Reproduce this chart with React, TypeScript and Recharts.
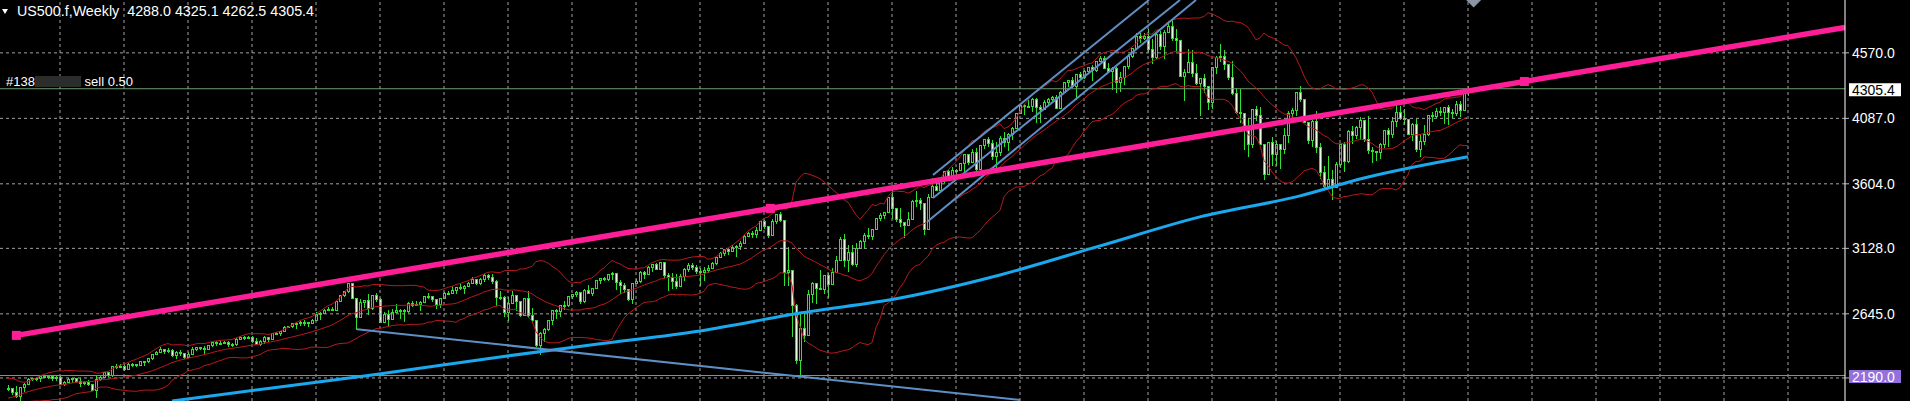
import {
  ComposedChart,
  Bar,
  Line,
  XAxis,
  YAxis,
  ReferenceLine,
  ReferenceDot,
} from "recharts";

// price window of the chart (top edge / bottom edge)
const Y_MIN = 2002;
const Y_MAX = 4960;

// weekly bars, first bar = week of 6 Jun 2016, last = week of 5 Jun 2023
const FIRST_OPEN = 2099;

// closes before the first visible bar (only feed the bollinger bands)
const PRE_CLOSES = [1940, 1880, 1865, 1918, 1948, 2000, 2022, 2050, 2036, 2073, 2048, 2081, 2092, 2065, 2057, 2047, 2052, 2099, 2099];

const CLOSES = [
  // 2016
  2096, 2071, 2037, 2103, 2130, 2162, 2175, 2174, 2183, 2184, 2184, 2169, 2180, 2128, 2139, 2165, 2168, 2153, 2133, 2141, 2126, 2085, 2164, 2182, 2213, 2192, 2260, 2258, 2263, 2239,
  // 2017
  2277, 2275, 2271, 2295, 2297, 2316, 2351, 2367, 2383, 2373, 2378, 2344, 2363, 2355, 2329, 2349, 2384, 2399, 2390, 2382, 2416, 2439, 2432, 2433, 2438, 2423, 2425, 2459, 2472, 2472, 2476, 2441, 2426, 2443, 2477, 2461, 2500, 2502, 2519, 2549, 2553, 2575, 2581, 2587, 2582, 2579, 2602, 2642, 2652, 2675, 2684, 2674,
  // 2018
  2743, 2786, 2810, 2873, 2762, 2620, 2732, 2747, 2691, 2786, 2752, 2588, 2641, 2604, 2656, 2670, 2670, 2663, 2728, 2713, 2721, 2735, 2779, 2780, 2755, 2718, 2760, 2801, 2802, 2819, 2840, 2833, 2850, 2875, 2902, 2872, 2905, 2930, 2914, 2886, 2767, 2768, 2659, 2723, 2781, 2736, 2633, 2760, 2633, 2600, 2417, 2507,
  // 2019
  2532, 2596, 2671, 2665, 2707, 2708, 2776, 2793, 2804, 2743, 2822, 2801, 2834, 2893, 2907, 2905, 2940, 2946, 2881, 2860, 2826, 2752, 2873, 2887, 2950, 2942, 2990, 3014, 2977, 3026, 2932, 2919, 2889, 2847, 2926, 2979, 3007, 2992, 2962, 2952, 2970, 2986, 3023, 3067, 3093, 3120, 3110, 3141, 3146, 3169, 3221, 3240,
  // 2020
  3235, 3265, 3330, 3295, 3226, 3328, 3380, 3338, 2954, 2972, 2711, 2305, 2541, 2489, 2790, 2875, 2837, 2831, 2930, 2864, 2955, 3044, 3194, 3041, 3098, 3009, 3130, 3185, 3225, 3216, 3271, 3351, 3373, 3397, 3508, 3427, 3341, 3319, 3298, 3348, 3477, 3484, 3465, 3270, 3510, 3585, 3558, 3638, 3699, 3663, 3709, 3703, 3756,
  // 2021
  3825, 3768, 3841, 3714, 3887, 3934, 3907, 3811, 3842, 3943, 3913, 3975, 4019, 4129, 4185, 4180, 4181, 4233, 4174, 4156, 4204, 4230, 4247, 4166, 4281, 4352, 4370, 4327, 4412, 4395, 4437, 4468, 4442, 4509, 4535, 4459, 4433, 4455, 4357, 4391, 4471, 4545, 4605, 4697, 4683, 4698, 4595, 4538, 4712, 4620, 4725, 4766,
  // 2022
  4677, 4663, 4398, 4432, 4501, 4419, 4349, 4385, 4329, 4204, 4463, 4543, 4546, 4488, 4393, 4272, 4132, 4123, 4023, 3901, 4158, 4109, 3901, 3675, 3912, 3825, 3899, 3863, 3962, 4130, 4145, 4280, 4228, 4057, 3924, 4067, 3873, 3693, 3586, 3640, 3583, 3752, 3901, 3771, 3993, 3965, 4026, 4072, 3934, 3852, 3845, 3840,
  // 2023
  3895, 3999, 3973, 4071, 4136, 4090, 4079, 3970, 4046, 3862, 3917, 3971, 4109, 4105, 4138, 4133, 4169, 4136, 4124, 4192, 4151, 4288, 4305.4,
];

const HIGHS = [
  2120, 2095, 2113, 2103, 2132, 2169, 2175, 2178, 2185, 2194, 2193, 2187, 2184, 2187, 2149, 2175, 2175, 2169, 2169, 2148, 2154, 2131, 2183, 2188, 2213, 2214, 2260, 2278, 2274, 2273,
  2282, 2279, 2277, 2300, 2300, 2319, 2352, 2368, 2401, 2383, 2390, 2382, 2370, 2379, 2356, 2361, 2398, 2399, 2404, 2406, 2418, 2440, 2446, 2441, 2444, 2442, 2433, 2464, 2479, 2484, 2481, 2480, 2468, 2454, 2480, 2474, 2500, 2508, 2520, 2552, 2557, 2575, 2582, 2590, 2597, 2582, 2605, 2657, 2655, 2680, 2695, 2692,
  2743, 2787, 2815, 2873, 2870, 2763, 2754, 2748, 2789, 2786, 2802, 2761, 2661, 2672, 2680, 2717, 2683, 2682, 2732, 2742, 2742, 2737, 2779, 2802, 2780, 2752, 2763, 2804, 2816, 2848, 2841, 2863, 2855, 2877, 2916, 2900, 2908, 2941, 2940, 2940, 2891, 2817, 2779, 2768, 2816, 2781, 2730, 2760, 2815, 2685, 2601, 2511,
  2538, 2598, 2675, 2681, 2708, 2738, 2776, 2794, 2814, 2804, 2831, 2860, 2836, 2894, 2910, 2917, 2940, 2954, 2931, 2892, 2874, 2831, 2876, 2905, 2964, 2959, 2996, 3014, 3018, 3028, 3027, 2945, 2943, 2939, 2940, 2985, 3021, 3022, 3002, 2983, 2993, 3008, 3027, 3067, 3098, 3121, 3128, 3154, 3150, 3183, 3226, 3248,
  3258, 3282, 3330, 3338, 3285, 3347, 3385, 3393, 3259, 3136, 2882, 2720, 2641, 2641, 2819, 2879, 2871, 2965, 2932, 2945, 2981, 3068, 3212, 3233, 3156, 3155, 3166, 3187, 3238, 3280, 3272, 3352, 3387, 3399, 3509, 3588, 3425, 3429, 3320, 3394, 3482, 3550, 3497, 3465, 3530, 3646, 3628, 3645, 3701, 3712, 3726, 3711, 3760,
  3827, 3810, 3859, 3870, 3887, 3937, 3951, 3929, 3915, 3960, 3983, 3978, 4021, 4129, 4191, 4194, 4219, 4238, 4236, 4187, 4220, 4234, 4255, 4257, 4287, 4355, 4372, 4393, 4415, 4430, 4440, 4468, 4480, 4513, 4545, 4549, 4492, 4465, 4465, 4429, 4475, 4560, 4608, 4719, 4714, 4718, 4744, 4672, 4713, 4731, 4740, 4808,
  4818, 4749, 4632, 4453, 4595, 4590, 4490, 4385, 4416, 4327, 4465, 4546, 4637, 4593, 4471, 4513, 4308, 4307, 4082, 4091, 4159, 4178, 4168, 3837, 3913, 3951, 3919, 3878, 4013, 4140, 4167, 4281, 4325, 4218, 4062, 4076, 4140, 3907, 3736, 3806, 3703, 3762, 3905, 3911, 4001, 4028, 4034, 4100, 4052, 4101, 3876, 3846,
  3907, 4003, 4015, 4094, 4195, 4176, 4157, 4076, 4049, 4079, 3965, 4040, 4110, 4133, 4164, 4169, 4170, 4186, 4155, 4212, 4213, 4290, 4325.1,
];

const LOWS = [
  2085, 2051, 2032, 1992, 2074, 2132, 2154, 2156, 2147, 2176, 2172, 2160, 2158, 2127, 2120, 2139, 2145, 2142, 2114, 2126, 2122, 2083, 2028, 2159, 2182, 2187, 2187, 2248, 2254, 2234,
  2245, 2258, 2259, 2266, 2267, 2290, 2313, 2347, 2361, 2354, 2360, 2333, 2322, 2344, 2322, 2328, 2366, 2377, 2387, 2353, 2382, 2407, 2415, 2419, 2428, 2405, 2407, 2415, 2457, 2459, 2466, 2437, 2423, 2418, 2428, 2446, 2474, 2496, 2489, 2520, 2545, 2547, 2544, 2566, 2566, 2557, 2574, 2598, 2605, 2650, 2671, 2673,
  2682, 2737, 2778, 2808, 2759, 2532, 2622, 2699, 2647, 2682, 2742, 2585, 2594, 2553, 2610, 2660, 2612, 2594, 2655, 2702, 2707, 2676, 2737, 2760, 2743, 2691, 2699, 2770, 2790, 2802, 2795, 2826, 2802, 2854, 2876, 2864, 2868, 2886, 2903, 2874, 2710, 2756, 2628, 2603, 2722, 2670, 2631, 2649, 2621, 2583, 2409, 2346,
  2443, 2524, 2570, 2612, 2631, 2681, 2704, 2764, 2775, 2722, 2734, 2800, 2785, 2835, 2873, 2891, 2898, 2900, 2825, 2801, 2805, 2750, 2728, 2874, 2880, 2906, 2955, 2963, 2975, 2974, 2914, 2822, 2834, 2834, 2853, 2891, 2964, 2978, 2946, 2856, 2892, 2953, 2984, 3014, 3071, 3076, 3090, 3111, 3070, 3123, 3183, 3223,
  3212, 3214, 3264, 3281, 3214, 3235, 3315, 3328, 2855, 2860, 2478, 2280, 2191, 2447, 2504, 2729, 2727, 2830, 2797, 2766, 2865, 2970, 3044, 2999, 2958, 3003, 2999, 3128, 3127, 3202, 3198, 3272, 3340, 3354, 3400, 3350, 3330, 3292, 3209, 3303, 3342, 3441, 3415, 3233, 3280, 3511, 3555, 3557, 3614, 3634, 3647, 3636, 3703,
  3663, 3750, 3762, 3694, 3725, 3869, 3884, 3789, 3723, 3819, 3885, 3853, 3937, 4036, 4127, 4118, 4172, 4144, 4057, 4062, 4155, 4184, 4217, 4165, 4165, 4281, 4322, 4321, 4233, 4385, 4387, 4424, 4367, 4436, 4514, 4457, 4427, 4306, 4278, 4288, 4340, 4460, 4537, 4595, 4650, 4672, 4585, 4495, 4532, 4600, 4531, 4733,
  4662, 4582, 4396, 4222, 4431, 4401, 4338, 4115, 4279, 4158, 4162, 4424, 4507, 4450, 4380, 4267, 4124, 4062, 3859, 3811, 3875, 4074, 3900, 3637, 3705, 3741, 3743, 3722, 3835, 3911, 4079, 4115, 4218, 4057, 3907, 3886, 3838, 3647, 3584, 3635, 3492, 3590, 3731, 3699, 3764, 3906, 3943, 3938, 3918, 3828, 3764, 3783,
  3794, 3877, 3885, 3949, 4031, 4079, 4048, 3968, 3928, 3847, 3808, 3900, 3962, 4068, 4098, 4114, 4049, 4048, 4098, 4112, 4104, 4167, 4262.5,
];

// 200-period MA (blue), read at a few bars
const MA_BARS = [41, 66, 91, 123, 148, 173, 198, 223, 248, 273, 298, 323, 339, 365];
const MA_VALUES = [2002, 2098, 2194, 2327, 2424, 2519, 2651, 2762, 2932, 3146, 3360, 3515, 3647, 3804];

const PRICE_TICKS = [4570, 4087, 3604, 3128, 2645, 2172];
const GRID_BARS = [13, 29, 45, 61, 77, 93, 109, 125, 141, 157, 173, 189, 205, 221, 237, 253, 269, 285, 301, 317, 333, 349, 365, 381, 397, 413, 429, 445];

const BID = 4305.4;
const LEVEL = 2190;

// drawn objects: [bar, price] pairs
const PINK_START = [2.1, 2486];
const PINK_ANCHOR = [379.1, 4359];
const PINK_EDGE = [459.25, 4757];
const SUPPORT_LINE = [[87.25, 2531], [253, 2010]];
const CHANNEL = [
  [[231.25, 3669], [285.25, 4960]],
  [[231.25, 3500], [293, 4960]],
  [[229.75, 3323], [297, 4960]],
];

const GREEN = "#2fe22f";
const BEAR_FILL = "#e4fbdc";
const PINK = "#ff1e98";
const STEEL = "#5e8fc5";
const GRID = "#a2a2a2";
const FONT = "'Liberation Sans', Arial, sans-serif";

const ALL_CLOSES = [...PRE_CLOSES, ...CLOSES];

const rows = CLOSES.map((close, k) => {
  const open = k === 0 ? FIRST_OPEN : CLOSES[k - 1];
  const win = ALL_CLOSES.slice(k, k + 20);
  const mean = win.reduce((s, v) => s + v, 0) / win.length;
  const sd = Math.sqrt(win.reduce((s, v) => s + (v - mean) ** 2, 0) / win.length);
  const maIdx = MA_BARS.indexOf(k);
  return {
    k,
    open,
    close,
    high: Math.max(HIGHS[k], open, close),
    low: Math.min(LOWS[k], open, close),
    bbU: mean + 2 * sd,
    bbM: mean,
    bbL: mean - 2 * sd,
    ma: maIdx >= 0 ? MA_VALUES[maIdx] : null,
  };
});

const Candle = (props: any) => {
  const { x, y, width, height } = props;
  const d = props.payload ?? props;
  if (y == null || isNaN(y)) return null;
  const cx = Math.round(x + width / 2) + 0.5;
  const span = d.high - d.low || 1;
  const py = (p: number) => y + ((d.high - p) / span) * height;
  const top = Math.round(py(Math.max(d.open, d.close))) + 0.5;
  const bot = Math.round(py(Math.min(d.open, d.close))) + 0.5;
  const bull = d.close >= d.open;
  return (
    <g>
      <line x1={cx} x2={cx} y1={Math.round(y)} y2={Math.round(y + height) + 1} stroke={GREEN} strokeWidth={1} />
      <rect
        x={cx - 1}
        y={top}
        width={2}
        height={Math.max(bot - top, 1)}
        fill={bull ? "#000" : BEAR_FILL}
        stroke={GREEN}
        strokeWidth={1}
      />
    </g>
  );
};

const priceTag = (text: string, bg: string, fg: string) => (props: any) => {
  const vb = props.viewBox;
  if (!vb) return null;
  const x = vb.x + vb.width;
  const y = vb.y;
  return (
    <g>
      <rect x={x + 4} y={y - 5.5} width={52} height={13} fill={bg} />
      <text x={x + 7} y={y + 6} fill={fg} fontSize={14} fontFamily={FONT}>
        {text}
      </text>
    </g>
  );
};

const square = (props: any) => (
  <rect x={props.cx - 4.5} y={props.cy - 4.5} width={9} height={9} fill={PINK} />
);

const shiftMark = (props: any) => (
  <polygon
    points={`${props.cx - 7.5},${props.cy} ${props.cx + 7.5},${props.cy} ${props.cx},${props.cy + 7.5}`}
    fill="#8a96a3"
  />
);

const App = () => {
  return (
    <div
      style={{
        position: "absolute",
        left: 0,
        top: 0,
        width: 1910,
        height: 401,
        background: "#000",
        overflow: "hidden",
      }}
    >
      <ComposedChart width={1910} height={401} data={rows} margin={{ top: 0, right: 0, bottom: 0, left: 0 }}>
        <XAxis type="number" dataKey="k" domain={[-2, 459.25]} allowDataOverflow hide />
        <YAxis
          orientation="right"
          type="number"
          domain={[Y_MIN, Y_MAX]}
          allowDataOverflow
          ticks={PRICE_TICKS}
          interval={0}
          width={65}
          axisLine={{ stroke: "#fff" }}
          tickLine={{ stroke: "#bbb" }}
          tickSize={4}
          tickMargin={3}
          tick={{ fill: "#fff", fontSize: 14, fontFamily: FONT }}
          tickFormatter={(v: number) => (v === 2172 ? "" : v.toFixed(1))}
        />

        {/* dashed grid */}
        {GRID_BARS.map((k) => (
          <ReferenceLine key={"gx" + k} x={k} stroke={GRID} strokeDasharray="3 3" />
        ))}
        {PRICE_TICKS.map((p) => (
          <ReferenceLine key={"gy" + p} y={p} stroke={GRID} strokeDasharray="3 3" />
        ))}

        <ReferenceLine y={BID} stroke="#6f9c6f" label={priceTag(BID.toFixed(1), "#fff", "#000")} />
        <ReferenceLine y={LEVEL} stroke="#8c7ae6" label={priceTag(LEVEL.toFixed(1), "#9370db", "#fff")} />

        <Bar
          dataKey={(d: any) => [d.low, d.high]}
          shape={Candle}
          barSize={3}
          isAnimationActive={false}
        />

        <Line dataKey="bbU" stroke="#b8181c" strokeWidth={1} dot={false} activeDot={false} isAnimationActive={false} />
        <Line dataKey="bbM" stroke="#b8181c" strokeWidth={1} dot={false} activeDot={false} isAnimationActive={false} />
        <Line dataKey="bbL" stroke="#b8181c" strokeWidth={1} dot={false} activeDot={false} isAnimationActive={false} />
        <Line
          type="monotone"
          dataKey="ma"
          stroke="#1aa8ee"
          strokeWidth={3}
          dot={false}
          activeDot={false}
          connectNulls
          isAnimationActive={false}
        />

        <ReferenceLine
          segment={[{ x: SUPPORT_LINE[0][0], y: SUPPORT_LINE[0][1] }, { x: SUPPORT_LINE[1][0], y: SUPPORT_LINE[1][1] }]}
          stroke={STEEL}
          strokeWidth={2}
          ifOverflow="hidden"
        />
        {CHANNEL.map((seg, n) => (
          <ReferenceLine
            key={n}
            segment={[{ x: seg[0][0], y: seg[0][1] }, { x: seg[1][0], y: seg[1][1] }]}
            stroke={STEEL}
            strokeWidth={2}
            ifOverflow="hidden"
          />
        ))}

        <ReferenceLine
          segment={[{ x: PINK_START[0], y: PINK_START[1] }, { x: PINK_EDGE[0], y: PINK_EDGE[1] }]}
          stroke={PINK}
          strokeWidth={5.5}
          ifOverflow="hidden"
        />
        <ReferenceDot x={PINK_START[0]} y={PINK_START[1]} r={5} shape={square} />
        <ReferenceDot
          x={(PINK_START[0] + PINK_ANCHOR[0]) / 2}
          y={(PINK_START[1] + PINK_ANCHOR[1]) / 2}
          r={5}
          shape={square}
        />
        <ReferenceDot x={PINK_ANCHOR[0]} y={PINK_ANCHOR[1]} r={5} shape={square} />

        <ReferenceDot x={366.4} y={Y_MAX} r={5} shape={shiftMark} ifOverflow="visible" />
      </ComposedChart>

      <div
        style={{
          position: "absolute",
          left: 2,
          top: 9,
          width: 0,
          height: 0,
          borderLeft: "3px solid transparent",
          borderRight: "3px solid transparent",
          borderTop: "5px solid #fff",
        }}
      />
      <div
        style={{
          position: "absolute",
          left: 17,
          top: 4,
          color: "#fff",
          fontFamily: FONT,
          fontSize: 14.3,
          lineHeight: "15px",
          whiteSpace: "pre",
        }}
      >
        {"US500.f,Weekly  4288.0 4325.1 4262.5 4305.4"}
      </div>
      <div
        style={{
          position: "absolute",
          left: 6,
          top: 75,
          color: "#fff",
          fontFamily: FONT,
          fontSize: 13,
          lineHeight: "13px",
          whiteSpace: "pre",
          display: "flex",
          alignItems: "center",
        }}
      >
        <span>#138</span>
        <span style={{ display: "inline-block", width: 46, height: 11, background: "#2a2d2a" }} />
        <span>{" sell 0.50"}</span>
      </div>
    </div>
  );
};

export default App;
